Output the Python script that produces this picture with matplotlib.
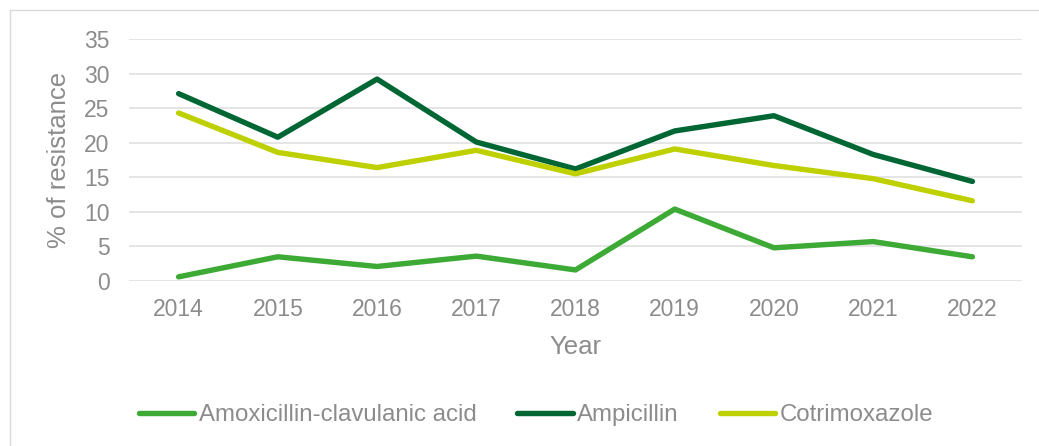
"""Line chart: % of resistance by year for three antibiotics."""
import matplotlib

matplotlib.use("Agg")
import matplotlib.pyplot as plt
from matplotlib.patches import Rectangle

# --------------------------------------------------------------------------
# Data
# --------------------------------------------------------------------------
YEARS = ["2014", "2015", "2016", "2017", "2018", "2019", "2020", "2021", "2022"]
AMOX_CLAV = [0.6, 3.5, 2.1, 3.6, 1.6, 10.4, 4.8, 5.7, 3.5]
AMPICILLIN = [27.1, 20.8, 29.2, 20.1, 16.2, 21.7, 23.9, 18.3, 14.4]
COTRIMOXAZOLE = [24.3, 18.6, 16.4, 18.9, 15.5, 19.1, 16.7, 14.8, 11.6]
Y_TICKS = [0, 5, 10, 15, 20, 25, 30, 35]

SERIES = [
    ("Amoxicillin-clavulanic acid", AMOX_CLAV, "#3DAA35"),
    ("Ampicillin", AMPICILLIN, "#006633"),
    ("Cotrimoxazole", COTRIMOXAZOLE, "#BFD000"),
]

TEXT = "#8C8C8C"
GRID = "#E3E3E3"
W, H = 1039, 446

plt.rcParams["font.family"] = ["Liberation Sans", "DejaVu Sans"]

fig = plt.figure(figsize=(W / 100, H / 100), dpi=100)
ax = fig.add_axes([129 / W, 1 - 281 / H, (1022 - 129) / W, (281 - 39) / H])

x = range(len(YEARS))
for label, values, color in SERIES:
    ax.plot(x, values, color=color, linewidth=3.9, label=label,
            solid_capstyle="round", solid_joinstyle="round", zorder=3)

ax.set_xlim(-0.5, len(YEARS) - 0.5)
ax.set_ylim(0, 35)
ax.set_yticks(Y_TICKS)
ax.set_xticks(list(x))
ax.set_xticklabels(YEARS)
ax.grid(axis="y", color=GRID, linewidth=1.3)
ax.set_axisbelow(True)
for side in ax.spines.values():
    side.set_visible(False)
ax.tick_params(length=0, labelsize=16.5, labelcolor=TEXT)
ax.tick_params(axis="y", pad=14)
ax.tick_params(axis="x", pad=12)

fig.text(59 / W, 1 - 160 / H, "% of resistance", rotation=90,
         ha="center", va="center", fontsize=18.5, color=TEXT)
fig.text(575 / W, 1 - 347 / H, "Year", ha="center", va="center",
         fontsize=18.5, color=TEXT)

leg = fig.legend(loc="center", bbox_to_anchor=(536 / W, 1 - 415 / H),
                 ncol=3, frameon=False, fontsize=17.3, handlelength=2.3,
                 handletextpad=0.2, columnspacing=1.7)
for t in leg.get_texts():
    t.set_color(TEXT)

# outer chart-area border (runs off the right and bottom edges)
fig.patches.append(Rectangle((10 / W, -0.05), 1.1, 1 - 10 / H + 0.05,
                             transform=fig.transFigure, fill=False,
                             edgecolor="#D9D9D9", linewidth=1.0))

fig.savefig("out.png", dpi=100)
